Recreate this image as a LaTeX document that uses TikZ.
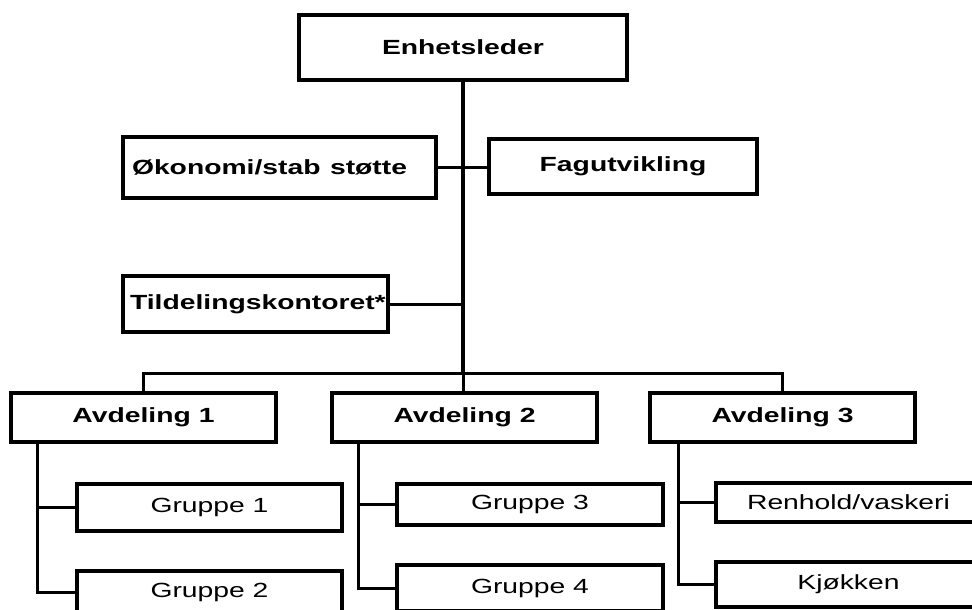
\documentclass[tikz,border=0pt]{standalone}
\usepackage{fontspec}
\setmainfont{Liberation Sans}
\usepackage{graphicx}
\newcommand{\sxt}[1]{\scalebox{1.38}[1]{#1}}
\tikzset{
  orgbox/.style={draw=black, line width=3.2pt, inner sep=0pt, align=center,
    font=\fontsize{20.5pt}{24pt}\selectfont},
  boldbox/.style={orgbox, font=\fontsize{20.5pt}{24pt}\selectfont\bfseries},
  leftbox/.style={boldbox, align=left},
  conn/.style={line width=3pt, line cap=rect},
  mainline/.style={line width=4.8pt},
}
\begin{document}
\begin{tikzpicture}[x=1pt, y=-1pt]
\useasboundingbox (0,0) rectangle (972,610);
\clip (0,0) rectangle (972,610);
\fill[white] (0,0) rectangle (972,610);

% top level
\node[boldbox, minimum width=328pt, minimum height=65pt] (E) at (463,47.5) {\sxt{Enhetsleder}};
\node[leftbox, inner xsep=9pt, text width=295pt, minimum height=61pt] (O) at (279.5,167.5) {\sxt{Økonomi/stab støtte}};
\node[boldbox, minimum width=268pt, minimum height=55pt] (F) at (623,166.5) {\sxt{Fagutvikling}};
\node[leftbox, inner xsep=7pt, text width=251pt, minimum height=56pt] (T) at (255.5,304) {\sxt{Tildelingskontoret*}};

% departments
\node[boldbox, minimum width=265pt, minimum height=49pt] (A1) at (143.5,417.5) {\sxt{Avdeling 1}};
\node[boldbox, minimum width=265pt, minimum height=49pt] (A2) at (464.5,417.5) {\sxt{Avdeling 2}};
\node[boldbox, minimum width=265pt, minimum height=49pt] (A3) at (782.5,417.5) {\sxt{Avdeling 3}};

% groups
\node[orgbox, minimum width=265pt, minimum height=47pt] (G1) at (209.5,507.5) {\sxt{Gruppe 1}};
\node[orgbox, minimum width=265pt, minimum height=42pt] (G2) at (209.5,592) {\sxt{Gruppe 2}};
\node[orgbox, minimum width=266pt, minimum height=41pt] (G3) at (530,504.5) {\sxt{Gruppe 3}};
\node[orgbox, minimum width=266pt, minimum height=46pt] (G4) at (530,588) {\sxt{Gruppe 4}};
\node[orgbox, minimum width=265pt, minimum height=39pt] (R) at (848.5,502.5) {\sxt{Renhold/vaskeri}};
\node[orgbox, minimum width=265pt, minimum height=45pt] (K) at (848.5,584.5) {\sxt{Kjøkken}};

% connectors
\coordinate (bus) at (463,373);
\draw[mainline] (E.south) -- (bus);
\draw[conn] (bus) -- (bus |- A2.north);
\draw[conn] (A1.north) |- (bus) -| (A3.north);
\draw[conn] (O.east) -- (O.east -| F.west);
\draw[conn] (T.east) -- (T.east -| bus);

\coordinate (s1) at (37,442);
\coordinate (s2) at (358,442);
\coordinate (s3) at (678,442);
\draw[conn] (s1) |- (G1.west);
\draw[conn] (s1) |- (G2.west);
\draw[conn] (s2) |- (G3.west);
\draw[conn] (s2) |- (G4.west);
\draw[conn] (s3) |- (R.west);
\draw[conn] (s3) |- (K.west);
\end{tikzpicture}
\end{document}
